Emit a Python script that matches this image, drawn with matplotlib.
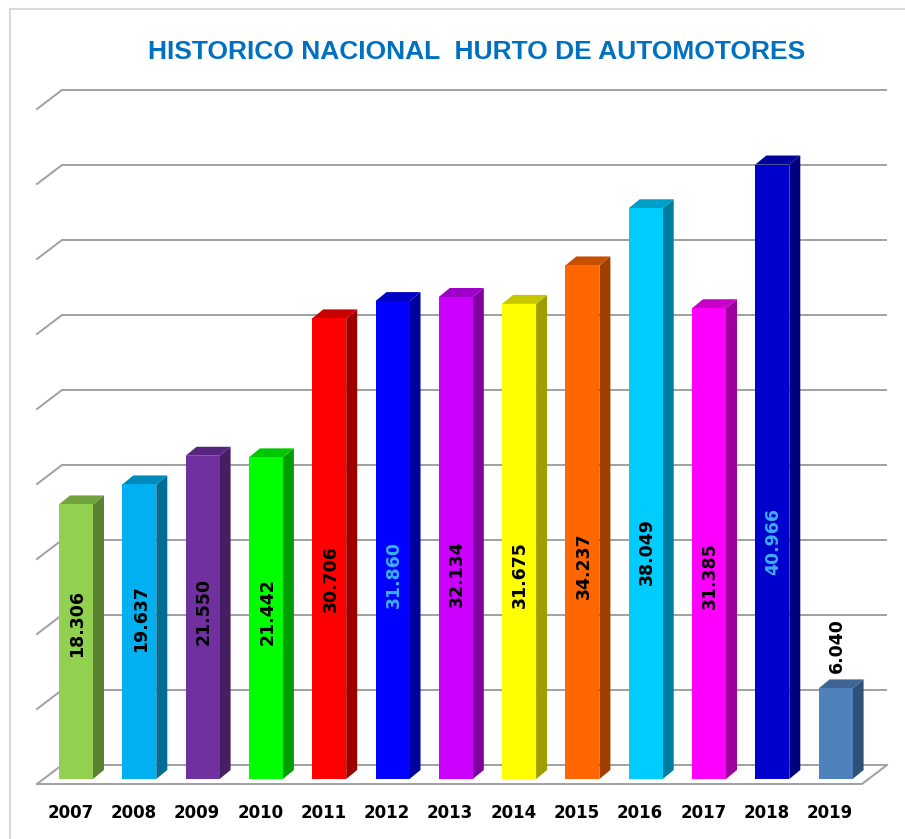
import numpy as np
import matplotlib
matplotlib.use("Agg")
import matplotlib.pyplot as plt
from matplotlib.patches import Rectangle, Polygon
from matplotlib.lines import Line2D
from matplotlib.colors import to_rgb

# data
years = ['2007', '2008', '2009', '2010', '2011', '2012', '2013',
         '2014', '2015', '2016', '2017', '2018', '2019']
values = [18306, 19637, 21550, 21442, 30706, 31860, 32134,
          31675, 34237, 38049, 31385, 40966, 6040]
colors = ['#92D050', '#00B0F0', '#7030A0', '#00FF00', '#FF0000', '#0000FF',
          '#CC00FF', '#FFFF00', '#FF6600', '#00CCFF', '#FF00FF', '#0000CC',
          '#4F81BD']
label_colors = ['black'] * 13
label_colors[5] = '#3DAEF5'
label_colors[11] = '#3DAEF5'
grid_values = np.arange(0, 45001, 5000)

title = 'HISTORICO NACIONAL  HURTO DE AUTOMOTORES'

# layout (pixels per category / per unit of value)
W, H = 905, 839
px_cat = 63.3
px_val = 0.015
x0_pix, y0_pix = 76, 779

bar_w = 34 / px_cat
bar_dx = 11 / px_cat
bar_dy = 9 / px_val
wall_dx = 25 / px_cat
wall_dy = 19 / px_val
floor_front = -333
wall_left = (37 - x0_pix) / px_cat
wall_right = (862 - x0_pix) / px_cat


def shade(c, f):
    r, g, b = to_rgb(c)
    return (r * f, g * f, b * f)


fig = plt.figure(figsize=(W / 100, H / 100), dpi=100)
ax = fig.add_axes([0, 0, 1, 1])
ax.set_xlim(-x0_pix / px_cat, (W - x0_pix) / px_cat)
ax.set_ylim((y0_pix - H) / px_val, y0_pix / px_val)
ax.axis('off')

grid_c = '#A0A0A0'
# back wall gridlines with left diagonals
for g in grid_values:
    yb = floor_front + wall_dy + g
    ax.plot([wall_left + wall_dx, wall_right + wall_dx], [yb, yb],
            color=grid_c, lw=1.4, zorder=1, solid_capstyle='butt')
    ax.plot([wall_left, wall_left + wall_dx], [yb - wall_dy, yb],
            color=grid_c, lw=1.4, zorder=1)
# floor front edge and right diagonal
ax.plot([wall_left, wall_right, wall_right + wall_dx],
        [floor_front, floor_front, floor_front + wall_dy],
        color=grid_c, lw=1.4, zorder=1)

# bars
for i, (v, c) in enumerate(zip(values, colors)):
    xa = i - bar_w / 2
    xb = i + bar_w / 2
    side = Polygon([(xb, 0), (xb + bar_dx, bar_dy), (xb + bar_dx, v + bar_dy), (xb, v)],
                   closed=True, facecolor=shade(c, 0.62), edgecolor='none', zorder=3)
    top = Polygon([(xa, v), (xb, v), (xb + bar_dx, v + bar_dy), (xa + bar_dx, v + bar_dy)],
                  closed=True, facecolor=shade(c, 0.78), edgecolor='none', zorder=3)
    front = Rectangle((xa, 0), bar_w, v, facecolor=c, edgecolor='none', zorder=4)
    ax.add_patch(side)
    ax.add_patch(top)
    ax.add_patch(front)

    txt = f'{v:,}'.replace(',', '.')
    if v < 10000:
        ax.text(i + 0.02, v + 1000, txt, rotation=90, ha='center', va='bottom',
                fontsize=12.5, fontweight='bold', color=label_colors[i], zorder=5)
    else:
        ax.text(i + 0.02, 6000 + 0.24 * v, txt, rotation=90, ha='center', va='center',
                fontsize=12.5, fontweight='bold', color=label_colors[i], zorder=5)

    ax.text(i - 0.09, (y0_pix - 813) / px_val, years[i], ha='center', va='center',
            fontsize=12, fontweight='bold', color='black')

# title
fig.text(477 / W, 1 - 52 / H, title, ha='center', va='center', fontsize=19,
         fontweight='bold', color='#0070C0', family='Liberation Sans')

# outer frame (top and left edges)
fig.add_artist(Line2D([10 / W, 1], [1 - 9 / H, 1 - 9 / H], color='#D9D9D9', lw=1.5,
                      transform=fig.transFigure))
fig.add_artist(Line2D([10 / W, 10 / W], [0, 1 - 9 / H], color='#D9D9D9', lw=1.5,
                      transform=fig.transFigure))

fig.savefig('out.png', dpi=100)
